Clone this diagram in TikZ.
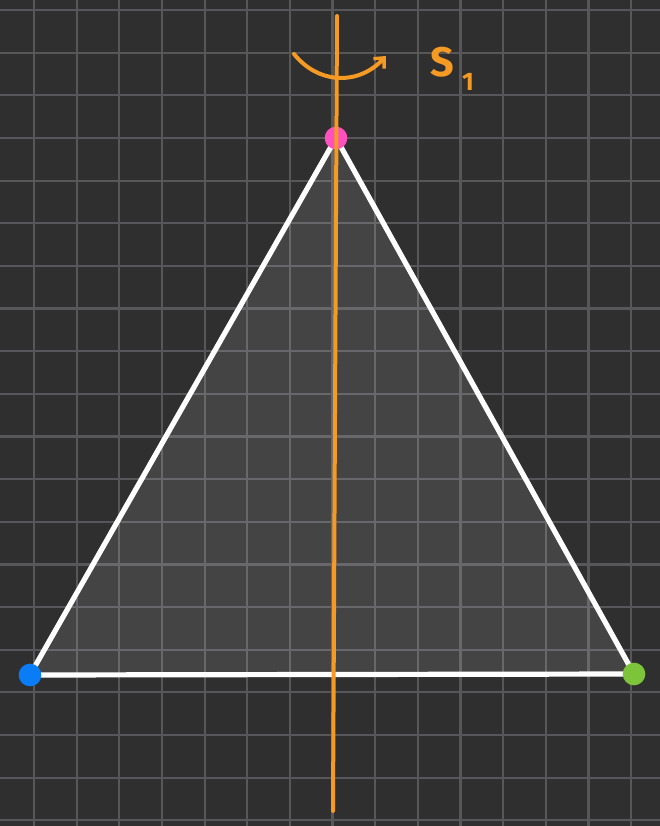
\documentclass[tikz,border=0pt]{standalone}
\usepackage{fontspec}
\setmainfont{Fira Sans}
\usetikzlibrary{arrows.meta}
\definecolor{bg}{HTML}{2F2F2F}
\definecolor{gridc}{HTML}{57575A}
\definecolor{orng}{HTML}{F59A23}
\definecolor{pinkc}{HTML}{FF50C0}
\definecolor{bluec}{HTML}{0A7CF5}
\definecolor{greenc}{HTML}{7DC43A}
\tikzset{
  vertexdot/.style={circle, inner sep=0pt, minimum size=17pt},
  edgeline/.style={draw=white, line width=3.9pt, line join=round},
  axisline/.style={draw=orng, line width=3pt, line cap=round},
  labeltext/.style={text=orng, inner sep=0pt},
}
\begin{document}
\begin{tikzpicture}[x=0.75pt,y=-0.75pt]
\useasboundingbox (0,0) rectangle (660,826);
\fill[bg] (0,0) rectangle (660,826);
% grid
\foreach \i in {0,...,15} {
  \draw[gridc, line width=1.6pt] ({34+42.65*\i},0) -- ({34+42.65*\i},826);
}
\foreach \j in {0,...,19} {
  \draw[gridc, line width=1.6pt] (0,{10+42.65*\j}) -- (660,{10+42.65*\j});
}
% vertices coordinates
\coordinate (T) at (336,138);
\coordinate (L) at (30,675);
\coordinate (R) at (634,674);
\fill[white, fill opacity=0.1] (T) -- (L) -- (R) -- cycle;
\draw[edgeline] (T) -- (L) -- (R) -- cycle;
% dots
\node[vertexdot, fill=pinkc] (vt) at (T) {};
\node[vertexdot, fill=bluec] (vl) at (L) {};
\node[vertexdot, fill=greenc] (vr) at (R) {};
% axis
\coordinate (A1) at (337,16);
\coordinate (A2) at (333,811);
\draw[axisline] (A1) -- (A2);
% rotation arrow
\coordinate (C1) at (294,54);
\coordinate (C2) at (386,56);
\draw[axisline, -{Straight Barb[length=6pt,width=11pt,line width=2.6pt]}] (C1) .. controls (318,84) and (358,86) .. (C2);
\node[labeltext, font=\fontsize{31}{31}\selectfont\bfseries] (labS) at (442,62) {S};
\node[labeltext, font=\fontsize{19}{19}\selectfont\bfseries] (labOne) at (468,82) {1};
\end{tikzpicture}
\end{document}
